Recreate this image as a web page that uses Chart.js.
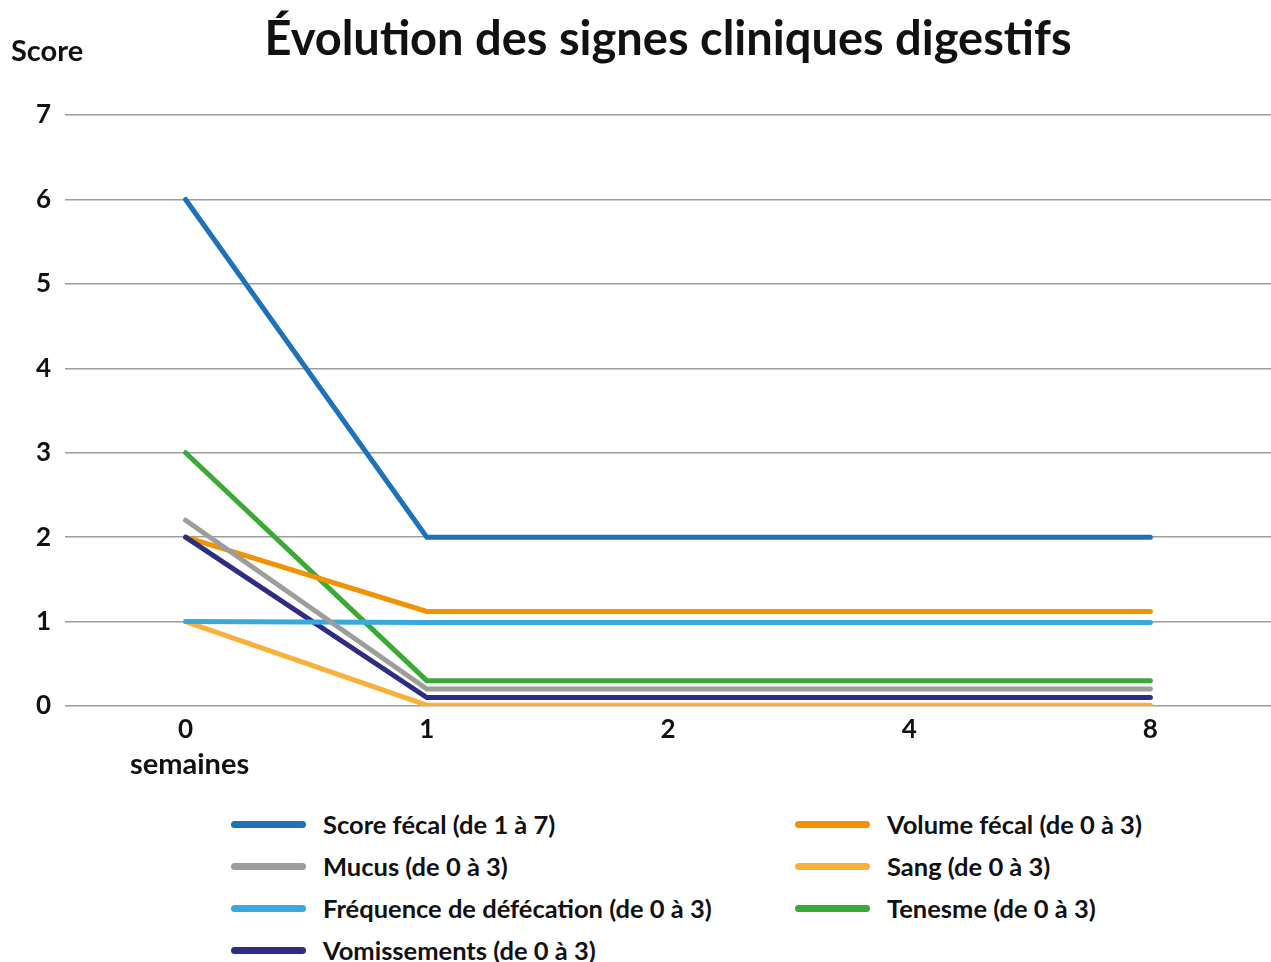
<!DOCTYPE html>
<html>
<head>
<meta charset="utf-8">
<script src="https://cdn.jsdelivr.net/npm/chart.js@4"></script>
<style>
  body { margin: 0; background: #fff; font-family: Lato, "Open Sans", sans-serif; }
  .wrap { position: relative; width: 1271px; height: 962px; }
  .chart-box { position: absolute; left: 0; top: 0; width: 1271px; height: 790px; }
  #legend {
    position: absolute; left: 231px; top: 803px;
    display: grid; grid-auto-flow: column;
    grid-template-rows: repeat(4, 42px); grid-template-columns: 564px 420px;
  }
  .item { display: flex; align-items: center; font-weight: 700; font-size: 25.5px; color: #111; white-space: nowrap; }
  .swatch { width: 75px; height: 7px; border-radius: 4px; margin-right: 17px; }
</style>
</head>
<body>
<div class="wrap">
  <div class="chart-box"><canvas id="chart"></canvas></div>
  <div id="legend"></div>
</div>
<script>
const weeks = ['0', '1', '2', '4', '8'];
const scoreFecal = [6, 2, 2, 2, 2];
const mucus = [2.2, 0.2, 0.2, 0.2, 0.2];
const frequence = [1, 0.99, 0.99, 0.99, 0.99];
const vomissements = [2, 0.1, 0.1, 0.1, 0.1];
const volumeFecal = [2, 1.12, 1.12, 1.12, 1.12];
const sang = [1, 0.01, 0.01, 0.01, 0.01];
const tenesme = [3, 0.3, 0.3, 0.3, 0.3];

const seriesNames = [
  'Score fécal (de 1 à 7)', 'Mucus (de 0 à 3)', 'Fréquence de défécation (de 0 à 3)',
  'Vomissements (de 0 à 3)', 'Volume fécal (de 0 à 3)', 'Sang (de 0 à 3)', 'Tenesme (de 0 à 3)'
];
const seriesValues = [scoreFecal, mucus, frequence, vomissements, volumeFecal, sang, tenesme];
const seriesColors = ['#1f71b8', '#9d9d9c', '#36a9e1', '#2d2e83', '#f39200', '#fbb03b', '#3aaa35'];

const font = 'Lato, "Open Sans", sans-serif';

const extraText = {
  id: 'extraText',
  afterDraw(chart) {
    const ctx = chart.ctx;
    const x = chart.scales.x;
    ctx.save();
    ctx.fillStyle = '#111';
    ctx.font = 'bold 29px ' + font;
    ctx.textBaseline = 'middle';
    ctx.textAlign = 'left';
    ctx.fillText('Score', 11, 52);
    ctx.textAlign = 'center';
    ctx.fillText('semaines', x.getPixelForValue(0) + 4, 765);
    ctx.restore();
  }
};

const chart = new Chart(document.getElementById('chart'), {
  type: 'line',
  data: {
    labels: weeks,
    datasets: seriesNames.map((name, i) => ({
      label: name,
      data: seriesValues[i],
      borderColor: seriesColors[i],
      backgroundColor: seriesColors[i],
      borderWidth: 5,
      borderCapStyle: 'round',
      borderJoinStyle: 'miter',
      pointRadius: 0,
      tension: 0
    }))
  },
  options: {
    responsive: true,
    maintainAspectRatio: false,
    animation: false,
    layout: { padding: 0 },
    plugins: {
      legend: { display: false },
      tooltip: { enabled: false },
      title: {
        display: true,
        fullSize: false,
        text: 'Évolution des signes cliniques digestifs',
        color: '#111',
        font: { family: font, size: 47, weight: 'bold', lineHeight: 1.2 },
        padding: { top: 12, bottom: 46.6 }
      }
    },
    scales: {
      x: {
        offset: true,
        grid: { display: false },
        border: { display: false },
        ticks: { color: '#111', font: { family: font, size: 26, weight: 'bold' }, padding: 0 },
        afterFit(scale) { scale.height = 84; }
      },
      y: {
        min: 0,
        max: 7,
        ticks: { stepSize: 1, color: '#111', font: { family: font, size: 26, weight: 'bold' }, padding: 14 },
        grid: { color: '#9d9d9d', lineWidth: 1.5, drawTicks: false },
        border: { display: false },
        afterFit(scale) { scale.width = 65; }
      }
    }
  },
  plugins: [extraText]
});

// html legend, two columns like the original
const legendEl = document.getElementById('legend');
chart.options.plugins.legend.labels.generateLabels(chart).forEach(item => {
  const div = document.createElement('div');
  div.className = 'item';
  const sw = document.createElement('span');
  sw.className = 'swatch';
  sw.style.background = item.strokeStyle;
  div.appendChild(sw);
  div.appendChild(document.createTextNode(item.text));
  legendEl.appendChild(div);
});
</script>
</body>
</html>
